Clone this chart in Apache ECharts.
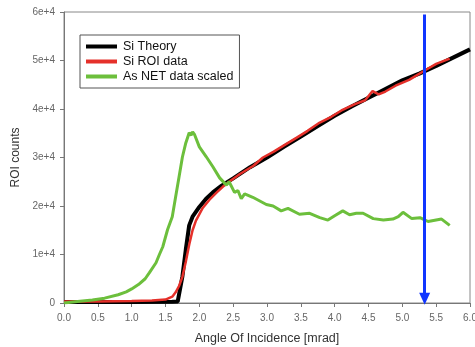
<!DOCTYPE html>
<html><head><meta charset="utf-8">
<script src="https://cdn.jsdelivr.net/npm/echarts@6/dist/echarts.min.js"></script>
<style>html,body{margin:0;padding:0;background:#fff}#c{width:475px;height:347px}</style>
</head><body><div id="c"></div>
<script>
const seriesNames = ['Si Theory', 'Si ROI data', 'As NET data scaled'];
const theoryX = [0, 1.0, 1.6, 1.68, 1.70, 1.75, 1.80, 1.85, 1.9, 2.0, 2.1, 2.2, 2.33, 2.5, 2.75, 3.0, 3.25, 3.5, 3.75, 4.0, 4.25, 4.5, 4.75, 5.0, 5.25, 5.5, 5.75, 6.0];
const theoryY = [200, 200, 250, 300, 400, 5500, 11000, 16000, 17800, 19800, 21500, 22800, 24200, 25700, 28000, 30000, 32200, 34300, 36500, 38600, 40500, 42300, 44100, 45900, 47300, 48900, 50600, 52300];
const roiX = [0, 0.5, 1.0, 1.3, 1.5, 1.6, 1.65, 1.7, 1.75, 1.8, 1.85, 1.9, 1.95, 2.05, 2.15, 2.25, 2.35, 2.44, 2.6, 2.8, 2.94, 3.1, 3.25, 3.44, 3.6, 3.78, 3.95, 4.1, 4.3, 4.45, 4.56, 4.65, 4.75, 4.9, 5.1, 5.35, 5.5, 5.7];
const roiY = [300, 300, 400, 500, 700, 1300, 2200, 3500, 5400, 8500, 12000, 15000, 17000, 19600, 21300, 22700, 24000, 25000, 26600, 28300, 30000, 31200, 32500, 34100, 35500, 37200, 38400, 39700, 41000, 41800, 43700, 43000, 43600, 44800, 46000, 48100, 49300, 50400];
const netX = [0, 0.2, 0.42, 0.6, 0.8, 0.92, 1.0, 1.1, 1.2, 1.26, 1.36, 1.41, 1.46, 1.53, 1.60, 1.65, 1.70, 1.75, 1.80, 1.85, 1.88, 1.90, 1.93, 2.0, 2.10, 2.20, 2.30, 2.40, 2.44, 2.52, 2.57, 2.62, 2.67, 2.79, 2.99, 3.09, 3.21, 3.31, 3.48, 3.63, 3.78, 3.90, 4.0, 4.12, 4.22, 4.32, 4.42, 4.57, 4.72, 4.86, 4.94, 5.01, 5.14, 5.26, 5.38, 5.58, 5.70];
const netY = [0, 300, 600, 1000, 1700, 2300, 2900, 3800, 5000, 6200, 8300, 10000, 11600, 15100, 17800, 21900, 26000, 30100, 33000, 35100, 34600, 35300, 34700, 32200, 30200, 28100, 25800, 24300, 25000, 22800, 23200, 21500, 22500, 21800, 20300, 20000, 19000, 19500, 18300, 18500, 17600, 17100, 18000, 19000, 18200, 18500, 18500, 17400, 17100, 17300, 17800, 18700, 17400, 17600, 16800, 17300, 16000];
const arrowX = 5.33;
const arrowY = [59500, 900];

function pairs(xs, ys) { return xs.map((x, i) => [x, ys[i]]); }

const chart = echarts.init(document.getElementById('c'), null, {renderer: 'canvas'});
const font = 'Liberation Sans, Arial, sans-serif';
chart.setOption({
  animation: false,
  backgroundColor: '#fff',
  grid: {left: 64, right: 5, top: 12, bottom: 44, outerBoundsMode: 'none', containLabel: false,
         show: true, borderColor: '#888', borderWidth: 1, backgroundColor: '#fff'},
  legend: {
    left: 80, top: 35, orient: 'vertical', padding: [5, 6, 5, 6], itemGap: 2,
    borderColor: '#555', borderWidth: 1, backgroundColor: '#fff',
    icon: 'rect', itemWidth: 31, itemHeight: 4,
    textStyle: {fontFamily: font, fontSize: 12.5, color: '#111', padding: [0, 0, 0, 1]},
    data: seriesNames
  },
  xAxis: {
    type: 'value', min: 0, max: 6, interval: 0.5,
    name: 'Angle Of Incidence [mrad]', nameLocation: 'middle', nameGap: 29,
    nameTextStyle: {fontFamily: font, fontSize: 12.5, color: '#333'},
    axisLine: {show: true, lineStyle: {color: '#777'}},
    axisTick: {show: true, length: 4, lineStyle: {color: '#777'}},
    axisLabel: {fontFamily: font, fontSize: 10, color: '#666', margin: 10, formatter: v => v.toFixed(1)},
    splitLine: {show: false}
  },
  yAxis: {
    type: 'value', min: 0, max: 60000, interval: 10000,
    name: 'ROI counts', nameLocation: 'middle', nameGap: 38,
    nameTextStyle: {fontFamily: font, fontSize: 12, color: '#333'},
    axisLine: {show: true, lineStyle: {color: '#777'}},
    axisTick: {show: true, length: 4, lineStyle: {color: '#777'}},
    axisLabel: {fontFamily: font, fontSize: 10, color: '#666', margin: 9, formatter: v => v === 0 ? '0' : (v / 10000) + 'e+4'},
    splitLine: {show: false}
  },
  series: [
    {name: seriesNames[0], type: 'line', data: pairs(theoryX, theoryY), showSymbol: false, color: '#000',
     lineStyle: {color: '#000', width: 4}},
    {name: seriesNames[1], type: 'line', data: pairs(roiX, roiY), showSymbol: false, color: '#e5302a',
     lineStyle: {color: '#e5302a', width: 2.5}},
    {name: seriesNames[2], type: 'line', data: pairs(netX, netY), showSymbol: false, color: '#6cbf3c',
     lineStyle: {color: '#6cbf3c', width: 3},
     markLine: {
       silent: true, symbol: ['none', 'triangle'], symbolSize: [11, 12],
       label: {show: false},
       lineStyle: {color: '#1035ff', width: 3, type: 'solid'},
       data: [[{coord: [arrowX, arrowY[0]]}, {coord: [arrowX, arrowY[1]]}]]
     }}
  ]
});
</script></body></html>
